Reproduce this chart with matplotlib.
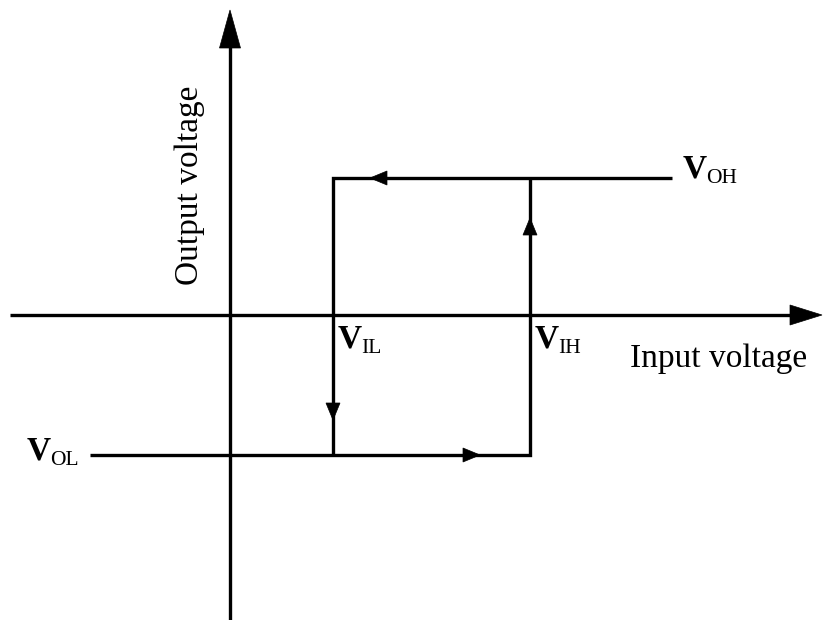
# hysteresis transfer curve (schmitt trigger)

import matplotlib
matplotlib.use("Agg")
import matplotlib.pyplot as plt

# threshold levels (1 unit = 100 px of the picture)
V_IL = 1.03
V_IH = 3.00
V_OH = 1.37
V_OL = -1.40

x_axis = [-2.20, 5.92]   # input voltage axis, left end -> arrow tip
y_axis = [-3.05, 3.05]   # output voltage axis, bottom -> arrow tip
top_end = 4.42           # V_OH line runs to here
bottom_start = -1.40     # V_OL line starts here

# direction arrows along the loop: (tip x, tip y, dx, dy)
loop_arrows = [
    (1.40, V_OH, -1, 0),
    (2.50, V_OL, 1, 0),
    (V_IL, -1.05, 0, -1),
    (V_IH, 0.97, 0, 1),
]

labels = [("OL", -2.03, V_OL - 0.05),
          ("IL", V_IL + 0.05, -0.33),
          ("IH", V_IH + 0.05, -0.33),
          ("OH", top_end + 0.11, V_OH)]

plt.rcParams['font.family'] = ['Liberation Serif', 'DejaVu Serif']

fig = plt.figure(figsize=(8.25, 6.2), dpi=100)
ax = fig.add_axes([0, 0, 1, 1])
ax.set_xlim(-2.30, 5.95)
ax.set_ylim(-3.05, 3.15)
ax.axis('off')

lw = 2.4


def head(x, y, dx, dy, length, width):
    # filled triangle with tip at (x, y)
    bx, by = x - dx*length, y - dy*length
    px, py = -dy*width/2, dx*width/2
    ax.fill([x, bx+px, bx-px], [y, by+py, by-py], color='black', lw=0.5, ec='black', zorder=3)


# axes with big arrows
ax.plot([x_axis[0], x_axis[1]-0.2], [0, 0], color='black', lw=lw, solid_capstyle='butt')
head(x_axis[1], 0, 1, 0, 0.32, 0.20)
ax.plot([0, 0], [y_axis[0], y_axis[1]-0.2], color='black', lw=lw, solid_capstyle='butt')
head(0, y_axis[1], 0, 1, 0.38, 0.21)

# the loop
ax.plot([bottom_start, V_IH, V_IH], [V_OL, V_OL, V_OH], color='black', lw=lw,
        solid_joinstyle='miter', solid_capstyle='butt')
ax.plot([top_end, V_IL, V_IL], [V_OH, V_OH, V_OL], color='black', lw=lw,
        solid_joinstyle='miter', solid_capstyle='butt')

for tx, ty, dx, dy in loop_arrows:
    head(tx, ty, dx, dy, 0.17, 0.14)

# V labels: bold V with plain subscript
for sub, lx, ly in labels:
    ax.text(lx, ly, "V", fontsize=24, fontweight='bold', ha='left', va='baseline')
    ax.annotate(sub, (lx, ly), xytext=(16.5, -3.6), textcoords='offset points',
                fontsize=15.5, ha='left', va='baseline')

ax.text(4.00, -0.52, "Input voltage", fontsize=24, ha='left', va='baseline')
ax.text(-0.40, 1.30, "Output voltage", fontsize=24, rotation=90, ha='center', va='center')

plt.savefig("out.png", dpi=100)
